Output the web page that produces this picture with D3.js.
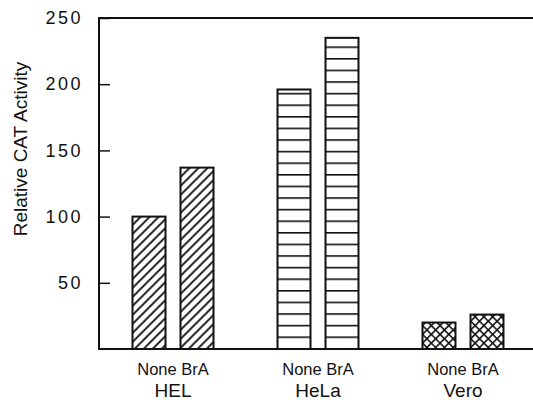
<!DOCTYPE html>
<html>
<head>
<meta charset="utf-8">
<script src="https://cdn.jsdelivr.net/npm/d3@7"></script>
<style>
  body { margin: 0; background: #fff; }
  text { font-family: "Liberation Sans", Arial, sans-serif; fill: #111; }
</style>
</head>
<body>
<svg id="chart" width="533" height="407"></svg>
<script>
// data
const cells = ["HEL", "HeLa", "Vero"];
const treatments = ["None", "BrA"];
const noneValues = [100, 196, 20];
const braValues = [137, 235, 26];
const yTicks = [50, 100, 150, 200, 250];

const svg = d3.select("#chart");
const plotLeft = 99, plotRight = 533, plotTop = 18, plotBottom = 349;

const y = d3.scaleLinear().domain([0, 250]).range([plotBottom, plotTop]);
const x0 = d3.scaleBand().domain(cells).range([100.5, 535.5]);
const x1 = d3.scaleBand().domain(treatments).range([0, 81]).paddingInner(15 / 48);

// patterns
const defs = svg.append("defs");
const diag = defs.append("pattern").attr("id", "diag")
  .attr("patternUnits", "userSpaceOnUse").attr("width", 9).attr("height", 9);
diag.append("rect").attr("width", 9).attr("height", 9).attr("fill", "#fff");
diag.append("path").attr("d", "M-2,11 L11,-2 M-4,4 L4,-4 M5,13 L13,5")
  .attr("stroke", "#111").attr("stroke-width", 1.9);

const horiz = defs.append("pattern").attr("id", "horiz")
  .attr("patternUnits", "userSpaceOnUse").attr("width", 10).attr("height", 11.6);
horiz.append("rect").attr("width", 10).attr("height", 11.6).attr("fill", "#fff");
horiz.append("line").attr("x1", 0).attr("x2", 10).attr("y1", 0.8).attr("y2", 0.8)
  .attr("stroke", "#111").attr("stroke-width", 1.6);

const cross = defs.append("pattern").attr("id", "cross")
  .attr("patternUnits", "userSpaceOnUse").attr("width", 6.2).attr("height", 6.2)
  .attr("patternTransform", "rotate(45)");
cross.append("rect").attr("width", 6.2).attr("height", 6.2).attr("fill", "#fff");
cross.append("path").attr("d", "M0,0 H6.2 M0,0 V6.2")
  .attr("stroke", "#111").attr("stroke-width", 3.2);

const fills = { HEL: "url(#diag)", HeLa: "url(#horiz)", Vero: "url(#cross)" };

const data = cells.map((c, i) => ({ cell: c, vals: [noneValues[i], braValues[i]] }));

const groups = svg.selectAll("g.grp").data(data).join("g")
  .attr("class", "grp")
  .attr("transform", d => `translate(${x0(d.cell) + x0.bandwidth() / 2 - 40.5},0)`);

groups.selectAll("rect").data(d => d.vals.map((v, j) => ({ cell: d.cell, t: treatments[j], v }))).join("rect")
  .attr("x", d => x1(d.t))
  .attr("y", d => y(d.v))
  .attr("width", x1.bandwidth())
  .attr("height", d => y(0) - y(d.v))
  .attr("fill", d => fills[d.cell])
  .attr("stroke", "#111")
  .attr("stroke-width", 2);

// labels under groups
groups.append("text")
  .attr("x", 40.5).attr("y", 375)
  .attr("text-anchor", "middle").style("font-size", "16.5px")
  .text(treatments.join(" "));
groups.append("text")
  .attr("x", 40.5).attr("y", 397)
  .attr("text-anchor", "middle").style("font-size", "19px")
  .text(d => d.cell);

// y axis
const yAxis = d3.axisLeft(y).tickValues(yTicks).tickSize(-11).tickPadding(16);
const ag = svg.append("g").attr("transform", `translate(${plotLeft},0)`).call(yAxis);
ag.select(".domain").remove();
ag.selectAll(".tick line").attr("stroke", "#111").attr("stroke-width", 1.5);
ag.selectAll(".tick text")
  .style("font-size", "18px").style("letter-spacing", "2.5px")
  .style("font-family", "'Liberation Sans', Arial, sans-serif").attr("fill", "#111");

// frame: left, top, bottom
svg.append("path")
  .attr("d", `M${plotRight},${plotTop} H${plotLeft} V${plotBottom} H${plotRight}`)
  .attr("fill", "none").attr("stroke", "#111").attr("stroke-width", 2);

svg.append("text")
  .attr("transform", `translate(27,149) rotate(-90)`)
  .attr("text-anchor", "middle").style("font-size", "19px")
  .text("Relative CAT Activity");
</script>
</body>
</html>
